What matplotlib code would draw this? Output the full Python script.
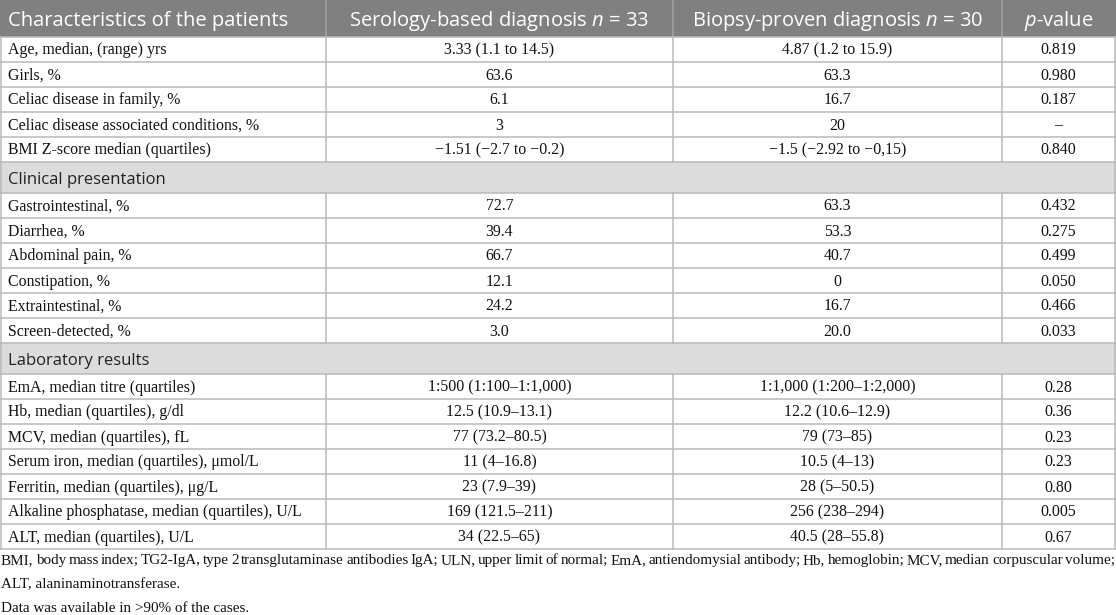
import matplotlib.pyplot as plt
from matplotlib.patches import Rectangle

plt.rcParams['mathtext.fontset'] = 'custom'
plt.rcParams['mathtext.rm'] = 'Open Sans'
plt.rcParams['mathtext.it'] = 'Open Sans:italic'
plt.rcParams['mathtext.bf'] = 'Open Sans:bold'

# Column headers
columns = ["Characteristics of the patients",
           "Serology-based diagnosis $n$ = 33",
           "Biopsy-proven diagnosis $n$ = 30",
           "$p$-value"]

# Section 1 (no title row)
characteristics = ["Age, median, (range) yrs", "Girls, %", "Celiac disease in family, %",
                   "Celiac disease associated conditions, %", "BMI Z-score median (quartiles)"]
char_serology = ["3.33 (1.1 to 14.5)", "63.6", "6.1", "3", "\u22121.51 (\u22122.7 to \u22120.2)"]
char_biopsy = ["4.87 (1.2 to 15.9)", "63.3", "16.7", "20", "\u22121.5 (\u22122.92 to \u22120,15)"]
char_p = ["0.819", "0.980", "0.187", "\u2013", "0.840"]

# Clinical presentation
clinical = ["Gastrointestinal, %", "Diarrhea, %", "Abdominal pain, %", "Constipation, %",
            "Extraintestinal, %", "Screen-detected, %"]
clin_serology = ["72.7", "39.4", "66.7", "12.1", "24.2", "3.0"]
clin_biopsy = ["63.3", "53.3", "40.7", "0", "16.7", "20.0"]
clin_p = ["0.432", "0.275", "0.499", "0.050", "0.466", "0.033"]

# Laboratory results
laboratory = ["EmA, median titre (quartiles)", "Hb, median (quartiles), g/dl",
              "MCV, median (quartiles), fL", "Serum iron, median (quartiles), \u03bcmol/L",
              "Ferritin, median (quartiles), \u03bcg/L",
              "Alkaline phosphatase, median (quartiles), U/L", "ALT, median (quartiles), U/L"]
lab_serology = ["1:500 (1:100\u20131:1,000)", "12.5 (10.9\u201313.1)", "77 (73.2\u201380.5)",
                "11 (4\u201316.8)", "23 (7.9\u201339)", "169 (121.5\u2013211)", "34 (22.5\u201365)"]
lab_biopsy = ["1:1,000 (1:200\u20131:2,000)", "12.2 (10.6\u201312.9)", "79 (73\u201385)",
              "10.5 (4\u201313)", "28 (5\u201350.5)", "256 (238\u2013294)", "40.5 (28\u201355.8)"]
lab_p = ["0.28", "0.36", "0.23", "0.23", "0.80", "0.005", "0.67"]

sections = [None, "Clinical presentation", "Laboratory results"]
blocks = [(characteristics, char_serology, char_biopsy, char_p),
          (clinical, clin_serology, clin_biopsy, clin_p),
          (laboratory, lab_serology, lab_biopsy, lab_p)]

footnotes = ["BMI, body mass index; TG2-IgA, type 2 transglutaminase antibodies IgA; ULN, upper limit of "
             "normal; EmA, antiendomysial antibody; Hb, hemoglobin; MCV, median corpuscular volume;",
             "ALT, alaninaminotransferase.",
             "Data was available in >90% of the cases."]

# layout (pixels)
W, H = 1116, 615
col_x = [0, 326, 673, 1002, 1115]
header_h, row_h, sec_h = 37, 25, 31
grid = '#b9b9b9'
head_bg = '#808080'
sec_bg = '#dcdcdc'
txt = '#111111'
serif = 'Liberation Serif'
sans = 'Open Sans'
fs_body = 11.4
fs_note = 10.9
fs_head = 14.5

fig = plt.figure(figsize=(W / 100, H / 100), dpi=100)
ax = fig.add_axes([0, 0, 1, 1])
ax.set_xlim(0, W)
ax.set_ylim(H, 0)
ax.axis('off')

# header
ax.add_patch(Rectangle((0, 0), W, header_h, color=head_bg, lw=0))
for i, c in enumerate(columns):
    if i == 0:
        ax.text(col_x[0] + 8, 26, c, fontsize=fs_head, family=sans, color='white',
                ha='left', va='baseline')
    else:
        ax.text((col_x[i] + col_x[i + 1]) / 2, 26, c, fontsize=fs_head, family=sans,
                color='white', ha='center', va='baseline')
for xv in col_x[1:-1]:
    ax.plot([xv, xv], [0, header_h], color='#a3a3a3', lw=1.1)

y = header_h
hlines = [y]
for sec, (lab, s, b, p) in zip(sections, blocks):
    if sec is not None:
        ax.add_patch(Rectangle((0, y), W, sec_h, color=sec_bg, lw=0))
        ax.text(8, y + 22, sec, fontsize=12, family=sans, color='#222222',
                ha='left', va='baseline')
        y += sec_h
        hlines.append(y)
    top = y
    for row in zip(lab, s, b, p):
        yb = y + 17.5
        ax.text(8, yb, row[0], fontsize=fs_body, family=serif, color=txt, ha='left', va='baseline')
        for j in range(1, 4):
            ax.text((col_x[j] + col_x[j + 1]) / 2, yb, row[j], fontsize=fs_body, family=serif,
                    color=txt, ha='center', va='baseline')
        y += row_h
        hlines.append(y)
    for xv in col_x[1:-1]:
        ax.plot([xv, xv], [top, y], color=grid, lw=1.1)

table_bottom = y
for hy in hlines:
    ax.plot([0, W], [hy, hy], color=grid, lw=1.1)
ax.plot([0.6, 0.6], [header_h, table_bottom], color=grid, lw=1.1)
ax.plot([W - 0.6, W - 0.6], [header_h, table_bottom], color=grid, lw=1.1)

# footnotes, first line justified to full width
fig.canvas.draw()
renderer = fig.canvas.get_renderer()
fy = table_bottom + 15
words = footnotes[0].split(' ')
objs = [ax.text(0, fy, w_, fontsize=fs_note, family=serif, color=txt, ha='left', va='baseline')
        for w_ in words]
widths = [o.get_window_extent(renderer).width for o in objs]
gap = (W - 2 - sum(widths)) / (len(words) - 1)
xpos = 1
for o, wd in zip(objs, widths):
    o.set_x(xpos)
    xpos += wd + gap
for k, line in enumerate(footnotes[1:]):
    ax.text(1, fy + 24 * (k + 1), line, fontsize=fs_note, family=serif, color=txt,
            ha='left', va='baseline')

fig.savefig('out.png', dpi=100)
